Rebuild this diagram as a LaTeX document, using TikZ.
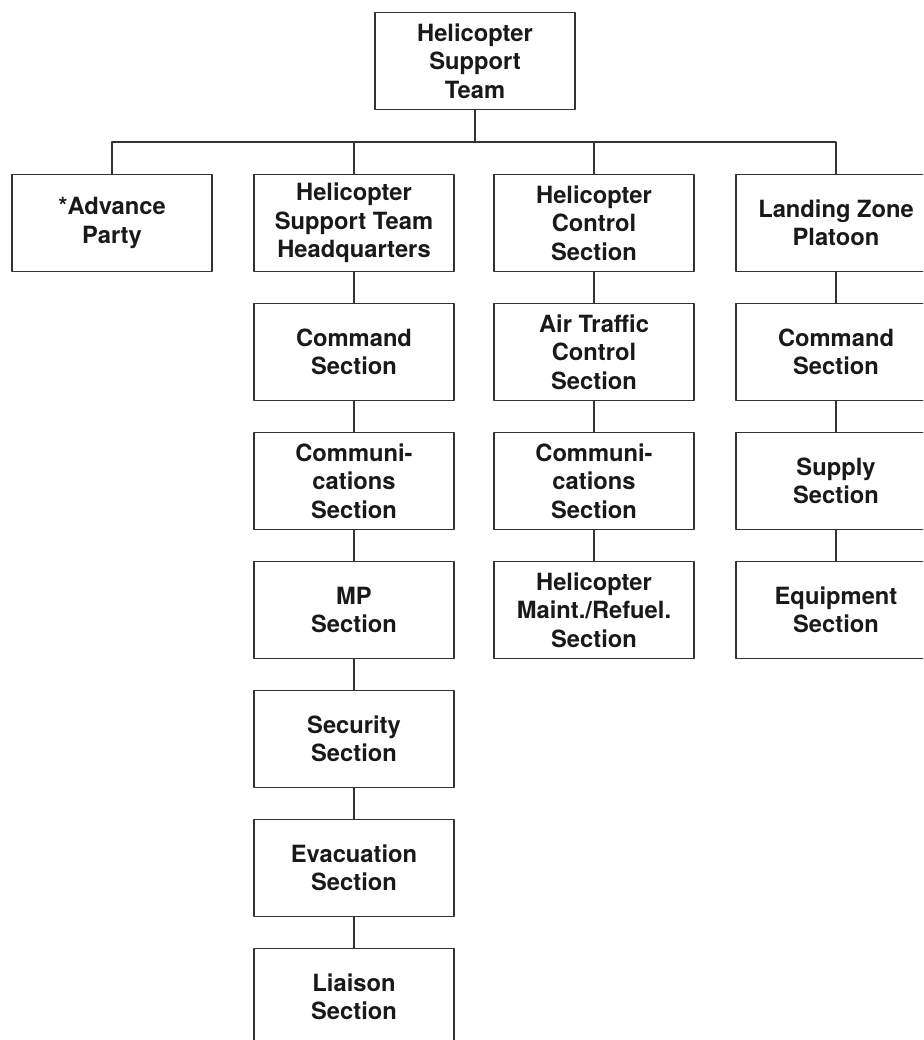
\documentclass[tikz,border=0pt]{standalone}
\usepackage{fontspec}
\setmainfont{TeX Gyre Heros}
\begin{document}
\begin{tikzpicture}[x=0.02cm, y=-0.02cm, font=\bfseries\fontsize{13.5}{16.2}\selectfont, line join=round, line cap=round]
\tikzset{unit/.style={draw=black!80, line width=0.8pt, minimum width=4cm, minimum height=1.94cm, align=center, inner sep=0pt, text=black!90}}
\useasboundingbox (0,0) rectangle (923,1040);
\clip (0,0) rectangle (923,1040);
% top of the tree
\node[unit] (hst) at (475,61) {Helicopter\\Support\\Team};
\coordinate (bus) at (475,142);
% first row
\node[unit] (adv) at (112,223) {*Advance\\Party};
\node[unit] (hq) at (354,223) {Helicopter\\Support Team\\Headquarters};
\node[unit] (hcs) at (594,223) {Helicopter\\Control\\Section};
\node[unit] (lzp) at (836,223) {Landing Zone\\Platoon};
% headquarters column
\node[unit] (hqcmd) at (354,352) {Command\\Section};
\node[unit] (hqcom) at (354,481) {Communi-\\cations\\Section};
\node[unit] (mp) at (354,610) {MP\\Section};
\node[unit] (sec) at (354,739) {Security\\Section};
\node[unit] (evac) at (354,868) {Evacuation\\Section};
\node[unit] (liai) at (354,997) {Liaison\\Section};
% control column
\node[unit] (atc) at (594,352) {Air Traffic\\Control\\Section};
\node[unit] (hccom) at (594,481) {Communi-\\cations\\Section};
\node[unit] (maint) at (594,610) {Helicopter\\Maint./Refuel.\\Section};
% landing zone column
\node[unit] (lzcmd) at (836,352) {Command\\Section};
\node[unit] (sup) at (836,481) {Supply\\Section};
\node[unit] (equip) at (836,610) {Equipment\\Section};
\begin{scope}[draw=black!80, line width=0.8pt]
\draw (hst.south) -- (bus);
\draw (adv.north) |- (bus) -| (lzp.north);
\draw (hq.north) -- (hq.north |- bus);
\draw (hcs.north) -- (hcs.north |- bus);
\draw (hq) -- (hqcmd) -- (hqcom) -- (mp) -- (sec) -- (evac) -- (liai);
\draw (hcs) -- (atc) -- (hccom) -- (maint);
\draw (lzp) -- (lzcmd) -- (sup) -- (equip);
\end{scope}
\end{tikzpicture}
\end{document}
